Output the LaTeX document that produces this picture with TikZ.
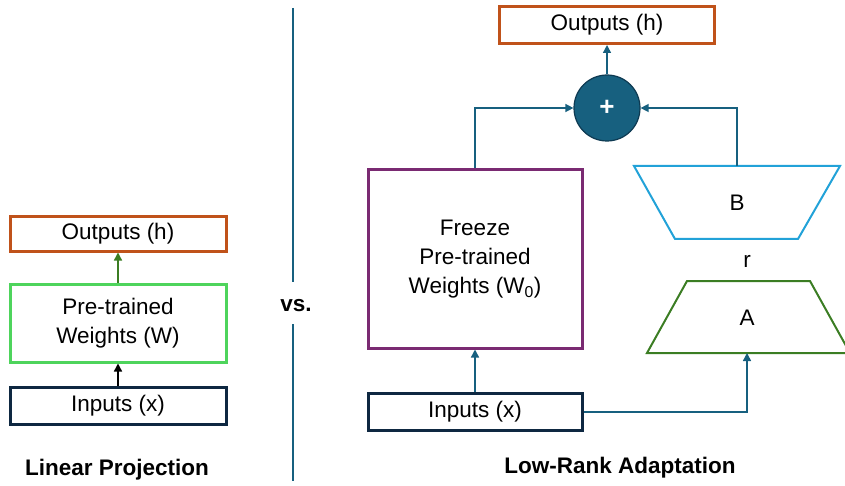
\documentclass[tikz,border=0pt]{standalone}
\usepackage{fontspec}
\setmainfont{Liberation Sans}
\usetikzlibrary{arrows.meta}
\definecolor{outorange}{HTML}{C0521A}
\definecolor{wgreen}{HTML}{4ED45C}
\definecolor{navy}{HTML}{0E2841}
\definecolor{plum}{HTML}{7A2A72}
\definecolor{teal}{HTML}{17607F}
\definecolor{tealdark}{HTML}{0E3A52}
\definecolor{skyblue}{HTML}{22A2D8}
\definecolor{leaf}{HTML}{3B7D23}
\tikzset{
  x=1pt, y=-1pt,
  tip/.style={-{Triangle[length=8pt,width=8pt]}},
  boxtext/.style={font=\fontsize{22.5}{29}\selectfont, align=center, inner sep=0pt},
  framebox/.style={draw, line width=3pt, inner sep=0pt, boxtext},
  link/.style={draw=teal, line width=1.4pt, tip},
  title/.style={font=\fontsize{22.5}{26}\selectfont\bfseries, inner sep=0pt},
}
\begin{document}
\begin{tikzpicture}
\useasboundingbox (0,0) rectangle (845,486);

% ---- left: plain linear projection ----
\node[framebox, draw=outorange, minimum width=216pt, minimum height=34pt] (lout) at (118,234) {Outputs (h)};
\node[framebox, draw=wgreen, minimum width=216pt, minimum height=78pt] (lw) at (118,323) {Pre-trained\\Weights (W)};
\node[framebox, draw=navy, minimum width=216pt, minimum height=37pt] (lin) at (118,406) {Inputs (x)};
\draw[line width=1.4pt, draw=black, tip] (lin.north) -- (lw.south);
\draw[line width=1.4pt, draw=leaf, tip] (lw.north) -- (lout.south);
\node[title] (ltitle) at (117,470) {Linear Projection};

% ---- divider ----
\node[title] (vs) at (296,306) {vs.};
\coordinate (dtop) at (293,8);
\coordinate (dgap1) at (293,282);
\coordinate (dgap2) at (293,324);
\coordinate (dbot) at (293,481);
\draw[teal, line width=1.5pt] (dtop) -- (dgap1);
\draw[teal, line width=1.5pt] (dgap2) -- (dbot);

% ---- right: low-rank adaptation ----
\node[framebox, draw=outorange, minimum width=215pt, minimum height=37pt] (rout) at (607,25) {Outputs (h)};
\node[circle, fill=teal, draw=tealdark, line width=1.2pt, minimum size=66pt, inner sep=0pt,
      text=white, font=\fontsize{26}{26}\selectfont\bfseries] (sum) at (607,108) {+};
\node[framebox, draw=plum, minimum width=214pt, minimum height=178pt] (w0) at (475,259)
  {Freeze\\Pre-trained\\Weights (W\textsubscript{0})};
\node[framebox, draw=navy, minimum width=214pt, minimum height=37pt] (rin) at (475,412) {Inputs (x)};

% trapezoid B (wide on top)
\draw[skyblue, line width=2pt, line join=miter] (634,166) -- (840,166) -- (798,239) -- (675,239) -- cycle;
\coordinate (btop) at (737,166);
\node[boxtext] (blabel) at (737,203) {B};
\node[boxtext] (rank) at (747,261) {r};
% trapezoid A (wide at bottom)
\draw[leaf, line width=2pt, line join=miter] (687,281) -- (810,281) -- (850,353) -- (647,353) -- cycle;
\coordinate (abot) at (747,353);
\node[boxtext] (alabel) at (747,318) {A};

\draw[link] (sum.north) -- (rout.south);
\draw[link] (w0.north) |- (sum.west);
\draw[link] (btop) |- (sum.east);
\draw[link] (rin.north) -- (w0.south);
\draw[link] (rin.east) -| (abot);

\node[title] (rtitle) at (620,468) {Low-Rank Adaptation};
\end{tikzpicture}
\end{document}
